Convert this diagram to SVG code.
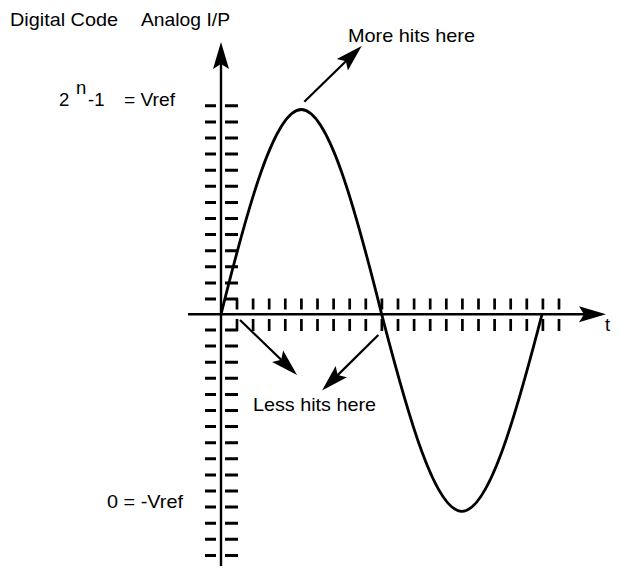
<svg xmlns="http://www.w3.org/2000/svg" width="621" height="570" viewBox="0 0 621 570">
<style>
text{font-family:"Liberation Sans",Arial,Helvetica,sans-serif;font-size:18.5px;fill:#000}
.ax{stroke:#000;stroke-width:2.4;fill:none}
.tk{stroke:#000;fill:none}
.cv{stroke:#000;stroke-width:2.8;fill:none}
.pt{stroke:#000;stroke-width:2.2;fill:none}
</style>
<defs>
<marker id="ah" markerUnits="userSpaceOnUse" markerWidth="40" markerHeight="24" viewBox="-8 -12 40 24" refX="0" refY="0" orient="auto">
<path d="M22,0 L-5,-8 L0,0 L-5,8 Z" fill="#000"/>
</marker>
</defs>
<rect width="621" height="570" fill="#fff"/>
<g id="labels">
<text x="10" y="26" textLength="108" lengthAdjust="spacingAndGlyphs">Digital Code</text>
<text x="141" y="26" textLength="89" lengthAdjust="spacingAndGlyphs">Analog I/P</text>
<text x="59" y="106">2</text>
<text x="76" y="94">n</text>
<text x="88" y="106">-1</text>
<text x="124" y="106" textLength="51" lengthAdjust="spacingAndGlyphs">= Vref</text>
<text x="107" y="508" textLength="76" lengthAdjust="spacingAndGlyphs">0 = -Vref</text>
<text x="348" y="42" textLength="127" lengthAdjust="spacingAndGlyphs">More hits here</text>
<text x="253" y="411" textLength="123" lengthAdjust="spacingAndGlyphs">Less hits here</text>
<text x="605" y="331">t</text>
</g>
<g id="ticks">
<line class="tk" x1="210.5" y1="300.5" x2="210.5" y2="104" stroke-width="11" stroke-dasharray="3 13.1"/>
<line class="tk" x1="231.5" y1="300.5" x2="231.5" y2="104" stroke-width="13" stroke-dasharray="3 13.1"/>
<line class="tk" x1="210.5" y1="328.5" x2="210.5" y2="558" stroke-width="11" stroke-dasharray="3 13.1"/>
<line class="tk" x1="231.5" y1="328.5" x2="231.5" y2="558" stroke-width="13" stroke-dasharray="3 13.1"/>
<line class="tk" x1="235.65" y1="304" x2="562" y2="304" stroke-width="11" stroke-dasharray="2.7 13.4"/>
<line class="tk" x1="235.65" y1="325" x2="562" y2="325" stroke-width="12" stroke-dasharray="2.7 13.4"/>
</g>
<g id="axes">
<line class="ax" x1="221" y1="566" x2="221" y2="64" marker-end="url(#ah)"/>
<line class="ax" x1="188" y1="314.3" x2="584" y2="314.3" marker-end="url(#ah)"/>
</g>
<g id="signal">
<path class="cv" d="M221,314.3 C247.8,207 274.5,109.5 301.3,109.5 C328.1,109.5 354.9,207 381.7,314.3 C408.4,417.4 435.2,511.3 461.9,511.3 C488.6,511.3 515.3,417.4 542,314.3"/>
</g>
<g id="connectors">
<line class="pt" x1="304.3" y1="101.7" x2="345.9" y2="61.3" marker-end="url(#ah)"/>
<line class="pt" x1="240" y1="320" x2="281.2" y2="359.7" marker-end="url(#ah)"/>
<line class="pt" x1="378.3" y1="335" x2="337.7" y2="375.1" marker-end="url(#ah)"/>
</g>
</svg>
